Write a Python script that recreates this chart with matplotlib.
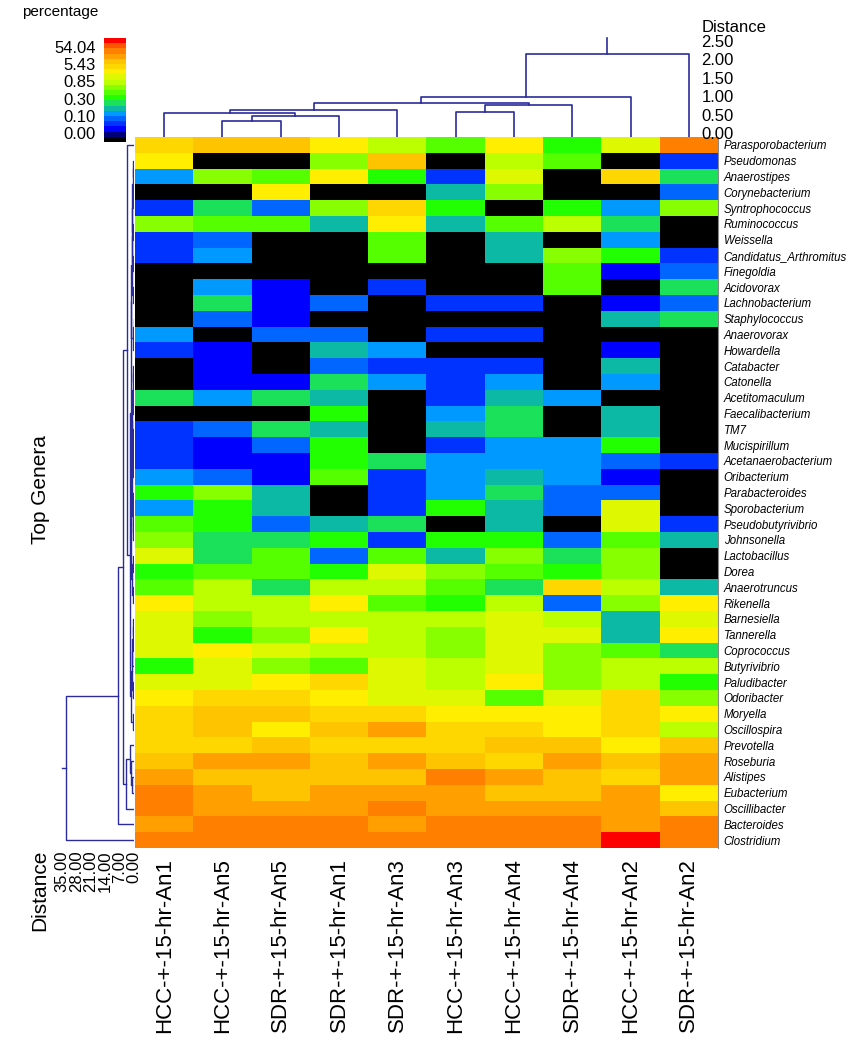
import matplotlib
matplotlib.use("Agg")
import matplotlib.pyplot as plt
import matplotlib.transforms as mtransforms
import numpy as np
from matplotlib.colors import ListedColormap, BoundaryNorm

W, H = 854, 1050

samples = ["HCC-+-15-hr-An1", "HCC-+-15-hr-An5", "SDR-+-15-hr-An5", "SDR-+-15-hr-An1",
           "SDR-+-15-hr-An3", "HCC-+-15-hr-An3", "HCC-+-15-hr-An4", "SDR-+-15-hr-An4",
           "HCC-+-15-hr-An2", "SDR-+-15-hr-An2"]

genera = ["Parasporobacterium", "Pseudomonas", "Anaerostipes", "Corynebacterium", "Syntrophococcus",
          "Ruminococcus", "Weissella", "Candidatus_Arthromitus", "Finegoldia", "Acidovorax",
          "Lachnobacterium", "Staphylococcus", "Anaerovorax", "Howardella", "Catabacter",
          "Catonella", "Acetitomaculum", "Faecalibacterium", "TM7", "Mucispirillum",
          "Acetanaerobacterium", "Oribacterium", "Parabacteroides", "Sporobacterium",
          "Pseudobutyrivibrio", "Johnsonella", "Lactobacillus", "Dorea", "Anaerotruncus",
          "Rikenella", "Barnesiella", "Tannerella", "Coprococcus", "Butyrivibrio", "Paludibacter",
          "Odoribacter", "Moryella", "Oscillospira", "Prevotella", "Roseburia", "Alistipes",
          "Eubacterium", "Oscillibacter", "Bacteroides", "Clostridium"]

# colour level of every cell (0 = absent ... 17 = highest abundance)
levels = [
    [13, 14, 14, 12, 10, 8, 12, 7, 11, 16],
    [12, 0, 0, 9, 14, 0, 10, 8, 0, 2],
    [4, 9, 8, 12, 7, 2, 11, 0, 13, 6],
    [0, 0, 12, 0, 0, 5, 9, 0, 0, 3],
    [2, 6, 3, 9, 13, 7, 0, 7, 4, 9],
    [9, 8, 8, 5, 12, 5, 8, 10, 6, 0],
    [2, 3, 0, 0, 8, 0, 5, 0, 4, 0],
    [2, 4, 0, 0, 8, 0, 5, 9, 7, 2],
    [0, 0, 0, 0, 0, 0, 0, 8, 1, 3],
    [0, 4, 1, 0, 2, 0, 0, 8, 0, 6],
    [0, 6, 1, 3, 0, 2, 2, 0, 1, 3],
    [0, 3, 1, 0, 0, 0, 0, 0, 5, 6],
    [4, 0, 3, 3, 0, 2, 2, 0, 0, 0],
    [2, 1, 0, 5, 4, 0, 0, 0, 1, 0],
    [0, 1, 0, 3, 2, 2, 2, 0, 5, 0],
    [0, 1, 1, 6, 4, 2, 4, 0, 4, 0],
    [6, 4, 6, 5, 0, 2, 5, 4, 0, 0],
    [0, 0, 0, 7, 0, 4, 6, 0, 5, 0],
    [2, 3, 6, 5, 0, 5, 6, 0, 5, 0],
    [2, 1, 3, 7, 0, 2, 4, 4, 7, 0],
    [2, 1, 1, 7, 6, 4, 4, 4, 3, 2],
    [4, 3, 1, 8, 2, 4, 5, 4, 1, 0],
    [7, 9, 5, 0, 2, 4, 6, 3, 3, 0],
    [4, 7, 5, 0, 2, 7, 5, 3, 11, 0],
    [8, 7, 3, 5, 6, 0, 5, 0, 11, 2],
    [9, 6, 6, 7, 2, 7, 7, 3, 8, 5],
    [11, 6, 8, 3, 8, 5, 9, 6, 9, 0],
    [7, 8, 8, 7, 11, 9, 8, 7, 9, 0],
    [8, 10, 6, 10, 10, 8, 6, 13, 10, 5],
    [12, 10, 10, 12, 8, 7, 10, 3, 9, 12],
    [11, 9, 10, 10, 10, 10, 11, 10, 5, 11],
    [11, 7, 9, 12, 10, 9, 11, 11, 5, 12],
    [11, 12, 11, 10, 10, 9, 11, 9, 8, 6],
    [7, 11, 9, 8, 11, 10, 11, 9, 10, 10],
    [11, 11, 12, 13, 11, 10, 12, 9, 10, 7],
    [12, 13, 13, 12, 11, 11, 8, 11, 13, 9],
    [13, 14, 14, 13, 13, 12, 12, 12, 13, 12],
    [13, 14, 12, 14, 15, 13, 13, 12, 13, 10],
    [13, 13, 14, 13, 13, 13, 14, 14, 12, 14],
    [14, 15, 15, 14, 15, 14, 13, 15, 14, 15],
    [15, 14, 14, 14, 14, 16, 15, 14, 13, 15],
    [16, 15, 14, 15, 15, 15, 14, 14, 15, 12],
    [16, 15, 15, 15, 16, 15, 15, 15, 15, 14],
    [15, 16, 16, 16, 15, 16, 16, 16, 15, 16],
    [16, 16, 16, 16, 16, 16, 16, 16, 17, 16],
]

heat_colors = ["#000000", "#0000ff", "#0033ff", "#0066ff", "#0099ff", "#0cb9a5", "#1ae05a",
               "#22ff00", "#55ff00", "#88ff00", "#bbff00", "#ddf800", "#ffee00", "#ffd700",
               "#ffc400", "#ffa000", "#ff8000", "#ff0000"]
scale_colors = ["#000000", "#00007a", "#0000ff", "#0033ff", "#0066ff", "#0099ff", "#0cb9a5",
                "#1ae05a", "#22ff00", "#55ff00", "#88ff00", "#bbff00", "#ddf800", "#ffee00",
                "#ffd700", "#ffc400", "#ffa000", "#ff8000", "#ff5500", "#ff0000"]
scale_labels = ["0.00", "0.10", "0.30", "0.85", "5.43", "54.04"]

# column clustering: (left, right, distance), leaves are column indices
col_tree = (((0, ((1, 2, 0.44), 3, 0.57), 0.64), 4, 0.73),
            (((5, 6, 0.67), 7, 0.87)), 0.92)
col_tree = (((col_tree, 8, 1.08)), 9, 2.26)
col_ticks = [0.0, 0.5, 1.0, 1.5, 2.0, 2.5]

# row clustering: leaves are row indices
rows_a1 = ((((((1, 2, 0.5), (3, 4, 0.4), 0.7), (5, 6, 0.4), 0.9), (7, 8, 0.3), 1.0),
            (9, 10, 0.3), 1.1), ((11, 12, 0.2), 13, 0.4), 1.3)
rows_a2 = (((((14, 15, 0.3), (16, 17, 0.3), 0.6), ((18, 19, 0.3), (20, 21, 0.4), 0.6), 0.9),
            ((22, 23, 0.3), (24, 25, 0.4), 0.7), 1.1), ((26, 27, 0.4), (28, 29, 0.5), 0.8), 1.3)
rows_b = (((((30, 31, 0.5), 32, 0.7), 33, 0.9), (34, 35, 0.6), 1.1), (36, 37, 0.7), 1.3)
rows_z = ((rows_a1, rows_a2, 1.6), rows_b, 1.9)
rows_y2 = ((38, (39, (40, 41, 0.9), 1.3), 1.8), 42, 3.8)
row_tree = ((((0, rows_z, 3.3), rows_y2, 5.4), 43, 7.6), 44, 33.0)
row_ticks = [0, 7, 14, 21, 28, 35]

line_col = "#2b2b9c"
narrow = ["Liberation Sans Narrow", "Liberation Sans", "DejaVu Sans"]
sans = ["Liberation Sans", "Arial", "DejaVu Sans"]


def box(x0, y0, x1, y1):
    return [x0 / W, 1 - y1 / H, (x1 - x0) / W, (y1 - y0) / H]


def tree_segments(node, segs):
    # returns (leaf position, height) of node, scipy style
    if isinstance(node, int):
        return node + 0.5, 0.0
    left, right, h = node
    lp, lh = tree_segments(left, segs)
    rp, rh = tree_segments(right, segs)
    segs.append(([lp, lp, rp, rp], [lh, h, h, rh]))
    return (lp + rp) / 2, h


fig = plt.figure(figsize=(W / 100, H / 100), dpi=100)

# heatmap
ax = fig.add_axes(box(135, 137, 718, 848))
cmap = ListedColormap(heat_colors)
norm = BoundaryNorm(np.arange(len(heat_colors) + 1) - 0.5, cmap.N)
ax.imshow(np.array(levels), cmap=cmap, norm=norm, aspect="auto", interpolation="nearest",
          extent=(0, len(samples), len(genera), 0))
ax.set_xticks(np.arange(len(samples)) + 0.5)
ax.set_xticklabels(samples, rotation=90, fontsize=16, family=sans)
ax.set_yticks(np.arange(len(genera)) + 0.5)
ax.set_yticklabels(genera, fontsize=8.3, style="italic", family=narrow)
ax.yaxis.tick_right()
ax.tick_params(axis="both", length=0)
ax.tick_params(axis="x", pad=7)
ax.tick_params(axis="y", pad=4)
for s in ["top", "left", "bottom"]:
    ax.spines[s].set_visible(False)
ax.spines["right"].set_color("#888888")
ax.spines["right"].set_linewidth(0.8)

# column dendrogram
axt = fig.add_axes(box(135, 30, 718, 137))
segs = []
root_pos, root_h = tree_segments(col_tree, segs)
for xs, ys in segs:
    axt.plot(xs, ys, color=line_col, lw=1.2)
axt.plot([root_pos, root_pos], [root_h, root_h + 0.42], color=line_col, lw=1.2)
axt.set_xlim(0, len(samples))
axt.set_ylim(0, 107 / 36.8)
axt.set_xticks([])
axt.set_yticks(col_ticks)
axt.set_yticklabels([f"{t:.2f}" for t in col_ticks], fontsize=12, family=narrow)
axt.yaxis.tick_right()
axt.tick_params(axis="y", length=0, pad=-12)
lift = mtransforms.ScaledTranslation(0, 4 / 100, fig.dpi_scale_trans)
for lab in axt.get_yticklabels():
    lab.set_transform(lab.get_transform() + lift)
for s in axt.spines.values():
    s.set_visible(False)
axt.patch.set_visible(False)
fig.text(702 / W, 1 - 28 / H, "Distance", fontsize=12, family=narrow, ha="left", va="center")

# row dendrogram
axl = fig.add_axes(box(55, 137, 134, 848))
segs = []
root_pos, root_h = tree_segments(row_tree, segs)
for ys, xs in segs:
    axl.plot(xs, ys, color=line_col, lw=1.0)
axl.plot([root_h, root_h + 2.0], [root_pos, root_pos], color=line_col, lw=1.0)
axl.set_ylim(len(genera), 0)
axl.set_xlim(79 / 2.06, 0)
axl.set_yticks([])
axl.set_xticks(row_ticks)
axl.set_xticklabels([f"{t:.2f}" for t in row_ticks], rotation=90, fontsize=12, family=sans)
axl.tick_params(axis="x", length=0, pad=2)
for s in axl.spines.values():
    s.set_visible(False)
axl.patch.set_visible(False)
fig.text(40 / W, 1 - 850 / H, "Distance", rotation=90, fontsize=15, family=sans,
         ha="center", va="top")
fig.text(40 / W, 1 - 490 / H, "Top Genera", rotation=90, fontsize=15, family=sans,
         ha="center", va="center")

# colour scale
axc = fig.add_axes(box(104, 38, 126, 142))
axc.imshow(np.arange(len(scale_colors))[:, None], cmap=ListedColormap(scale_colors),
           aspect="auto", origin="lower", interpolation="nearest",
           extent=(0, 1, 0, len(scale_colors)))
axc.set_xticks([])
axc.set_yticks(np.linspace(1.75, len(scale_colors) - 1.75, len(scale_labels)))
axc.set_yticklabels(scale_labels, fontsize=12, family=narrow)
axc.tick_params(axis="y", length=0, pad=6)
for s in axc.spines.values():
    s.set_visible(False)
fig.text(60 / W, 1 - 12 / H, "percentage", fontsize=11, family=sans, ha="center", va="center")

fig.savefig("out.png", dpi=100)
